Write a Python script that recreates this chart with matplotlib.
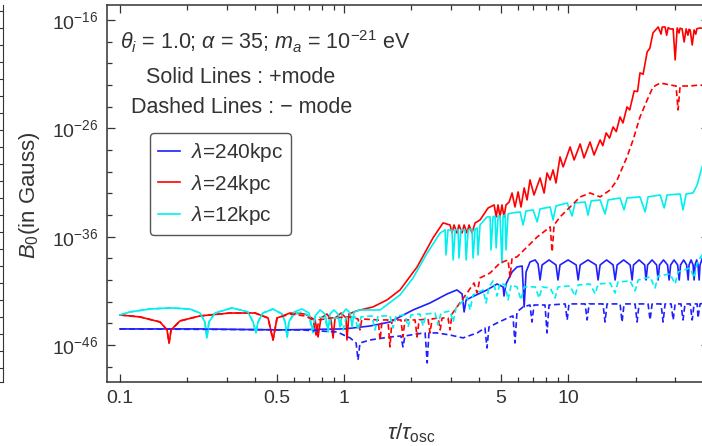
import numpy as np
import matplotlib.pyplot as plt
from matplotlib.ticker import FixedLocator, FixedFormatter, NullFormatter
from matplotlib.lines import Line2D

plt.rcParams['font.family'] = ['Liberation Sans', 'DejaVu Sans']
plt.rcParams['mathtext.fontset'] = 'custom'
plt.rcParams['mathtext.rm'] = 'Liberation Sans'
plt.rcParams['mathtext.it'] = 'Liberation Sans:italic'
plt.rcParams['mathtext.bf'] = 'Liberation Sans:bold'

# points as (log10 tau/tau_osc, log10 B0)
blue_plus = [
    (-1.0, -44.52), (-0.643, -44.52), (-0.286, -44.61), (0.0, -44.52), (0.116, -44.25),
    (0.205, -43.88), (0.308, -42.77), (0.384, -42.12), (0.460, -41.29), (0.504, -40.92),
    (0.527, -41.29), (0.536, -42.95), (0.545, -41.84), (0.571, -41.57), (0.638, -40.92),
    (0.683, -40.37), (0.710, -40.64), (0.714, -41.48), (0.723, -40.37), (0.75, -39.26),
    (0.772, -38.80), (0.795, -38.71), (0.804, -42.49), (0.8125, -39.26), (0.830, -38.34),
    (0.853, -38.15), (0.866, -38.52), (0.875, -40.0),
    (0.884, -38.61), (0.915, -38.15), (0.946, -38.61), (0.955, -40.0),
    (0.964, -38.61), (1.0, -38.15), (1.036, -38.61), (1.045, -40.0),
    (1.054, -38.61), (1.089, -38.15), (1.125, -38.61), (1.134, -40.0),
    (1.143, -38.61), (1.172, -38.15), (1.201, -38.61), (1.210, -40.0),
    (1.219, -38.61), (1.248, -38.15), (1.277, -38.61), (1.286, -40.0),
    (1.292, -38.61), (1.317, -38.15), (1.342, -38.61), (1.348, -40.0),
    (1.355, -38.61), (1.375, -38.15), (1.395, -38.61), (1.402, -40.0),
    (1.408, -38.61), (1.426, -38.15), (1.444, -38.61), (1.451, -40.0),
    (1.458, -38.61), (1.473, -38.15), (1.489, -38.61), (1.496, -40.0),
    (1.502, -38.61), (1.516, -38.15), (1.529, -38.61), (1.536, -40.0),
    (1.540, -38.61), (1.549, -38.15), (1.558, -38.61), (1.5625, -40.0),
    (1.567, -38.61), (1.574, -38.15), (1.580, -38.61), (1.585, -40.0),
    (1.589, -38.61), (1.612, -37.23),
]

blue_minus = [
    (-1.0, -44.52), (-0.196, -44.61), (-0.031, -44.80), (0.027, -45.35), (0.054, -45.82),
    (0.0625, -47.39), (0.071, -45.82), (0.116, -45.54), (0.205, -45.26), (0.254, -45.17),
    (0.263, -46.18), (0.272, -45.17), (0.326, -44.98), (0.362, -44.89), (0.371, -47.66),
    (0.379, -44.89), (0.415, -44.89), (0.473, -45.08), (0.531, -45.35), (0.594, -44.89),
    (0.629, -44.43), (0.638, -46.28), (0.647, -44.34), (0.683, -43.97), (0.741, -43.41),
    (0.754, -43.32), (0.763, -45.82), (0.772, -42.95), (0.799, -42.49), (0.830, -42.31),
    (0.839, -43.88), (0.848, -42.31), (0.897, -42.31), (0.906, -44.89), (0.915, -42.31),
    (0.987, -42.21), (0.996, -43.69), (1.004, -42.21), (1.076, -42.21), (1.085, -43.69),
    (1.094, -42.21), (1.156, -42.21), (1.165, -43.88), (1.174, -42.21), (1.232, -42.21),
    (1.241, -43.88), (1.25, -42.21), (1.299, -42.21), (1.308, -43.88), (1.317, -42.21),
    (1.357, -42.21), (1.366, -43.69), (1.375, -42.21), (1.415, -42.21), (1.424, -43.88),
    (1.433, -42.21), (1.460, -42.21), (1.469, -43.69), (1.478, -42.21), (1.504, -42.21),
    (1.513, -43.69), (1.522, -42.21), (1.545, -42.21), (1.554, -43.69), (1.5625, -42.21),
    (1.576, -42.21), (1.580, -43.51), (1.589, -42.21), (1.612, -42.12),
]

red_plus = [
    (-1.0, -43.23), (-0.911, -43.41), (-0.821, -43.88), (-0.790, -44.61), (-0.781, -45.82),
    (-0.772, -44.61), (-0.732, -43.78), (-0.643, -43.32), (-0.509, -43.05), (-0.397, -43.05),
    (-0.339, -43.51), (-0.317, -45.54), (-0.299, -43.51), (-0.241, -43.05), (-0.174, -43.14),
    (-0.129, -43.69), (-0.116, -45.26), (-0.103, -43.51), (-0.076, -43.14), (-0.058, -43.69),
    (-0.049, -45.35), (-0.040, -43.51), (-0.013, -43.05), (0.009, -43.51), (0.013, -45.54),
    (0.022, -43.14), (0.054, -42.86), (0.129, -42.49), (0.192, -41.84), (0.25, -40.92),
    (0.326, -38.80), (0.397, -36.12), (0.442, -34.73), (0.473, -34.92), (0.482, -35.66),
    (0.491, -34.92), (0.504, -35.66), (0.513, -34.92), (0.527, -35.66), (0.536, -34.92),
    (0.549, -35.66), (0.558, -34.92), (0.571, -35.66), (0.585, -34.73), (0.607, -34.46),
    (0.643, -33.35), (0.670, -33.07), (0.679, -34.18), (0.6875, -33.07), (0.696, -34.18),
    (0.705, -33.07), (0.714, -34.18), (0.723, -33.07), (0.737, -32.80), (0.75, -31.97),
    (0.763, -33.26), (0.777, -31.87), (0.790, -33.26), (0.804, -31.50), (0.817, -32.61),
    (0.830, -30.76), (0.848, -32.15), (0.875, -30.58), (0.893, -31.97), (0.906, -30.12),
    (0.920, -30.76), (0.933, -29.84), (0.946, -31.04), (0.964, -28.64), (0.978, -29.56),
    (1.009, -27.72), (1.027, -28.92), (1.054, -27.44), (1.071, -28.73), (1.098, -27.26),
    (1.116, -28.46), (1.143, -27.07), (1.155, -27.60), (1.170, -26.42), (1.185, -26.90),
    (1.201, -25.87), (1.215, -26.30), (1.232, -24.95), (1.245, -25.50), (1.263, -24.02),
    (1.275, -24.30), (1.295, -22.55), (1.310, -22.60), (1.321, -20.88), (1.335, -21.00),
    (1.353, -18.94), (1.365, -18.60), (1.379, -17.19), (1.402, -16.64), (1.415, -17.30),
    (1.420, -16.65), (1.433, -16.64), (1.440, -17.40), (1.447, -16.70), (1.455, -16.82),
    (1.469, -16.82), (1.478, -19.68), (1.487, -16.73), (1.495, -17.20), (1.500, -16.75),
    (1.509, -16.82), (1.518, -18.02), (1.527, -16.82), (1.535, -17.40), (1.540, -16.85),
    (1.545, -16.91), (1.554, -18.30), (1.5625, -16.91), (1.570, -17.30), (1.575, -16.80),
    (1.589, -16.73), (1.612, -16.82),
]

red_minus = [
    (-1.0, -43.23), (-0.911, -43.41), (-0.821, -43.88), (-0.790, -44.61), (-0.781, -45.82),
    (-0.772, -44.61), (-0.732, -43.78), (-0.643, -43.32), (-0.509, -43.05), (-0.397, -43.05),
    (-0.339, -43.51), (-0.317, -45.54), (-0.299, -43.51), (-0.241, -43.14), (-0.174, -43.32),
    (-0.138, -43.69), (-0.125, -45.08), (-0.112, -43.69), (-0.0625, -43.51), (0.027, -43.41),
    (0.0625, -43.60), (0.071, -44.61), (0.080, -43.60), (0.152, -43.69), (0.161, -45.54),
    (0.170, -43.69), (0.196, -43.69), (0.205, -46.18), (0.214, -43.69), (0.254, -43.69),
    (0.263, -45.26), (0.272, -43.69), (0.317, -43.69), (0.326, -45.26), (0.335, -43.69),
    (0.375, -43.60), (0.384, -44.89), (0.393, -43.60), (0.420, -43.51), (0.429, -44.61),
    (0.438, -43.51), (0.464, -43.51), (0.473, -44.61), (0.482, -43.14), (0.504, -42.49),
    (0.549, -41.20), (0.580, -40.28), (0.594, -41.20), (0.607, -39.81), (0.652, -39.35),
    (0.696, -38.43), (0.732, -38.15), (0.741, -39.72), (0.75, -37.97), (0.772, -37.87),
    (0.817, -36.95), (0.862, -36.03), (0.920, -35.10), (0.929, -37.41), (0.9375, -34.92),
    (0.964, -34.18), (1.009, -33.26), (1.054, -32.33), (1.098, -31.97), (1.143, -32.33),
    (1.1875, -31.69), (1.219, -30.76), (1.263, -28.64), (1.290, -27.07), (1.321, -24.95),
    (1.353, -23.38), (1.379, -22.18), (1.411, -21.81), (1.455, -21.99), (1.482, -22.09),
    (1.491, -24.30), (1.5, -22.09), (1.545, -22.09), (1.589, -21.99), (1.612, -22.09),
]

cyan_plus = [
    (-1.0, -43.23), (-0.955, -42.95), (-0.866, -42.68), (-0.777, -42.58), (-0.688, -42.68),
    (-0.643, -43.05), (-0.621, -43.88), (-0.612, -45.35), (-0.603, -43.88), (-0.576, -43.05),
    (-0.5, -42.58), (-0.429, -42.95), (-0.406, -43.88), (-0.393, -44.89), (-0.384, -43.88),
    (-0.362, -43.05), (-0.317, -42.68), (-0.277, -43.14), (-0.263, -43.88), (-0.254, -45.26),
    (-0.246, -43.88), (-0.223, -42.95), (-0.1875, -42.68), (-0.156, -43.05), (-0.138, -44.89),
    (-0.129, -43.32), (-0.107, -42.77), (-0.085, -43.14), (-0.071, -44.61), (-0.0625, -43.14),
    (-0.045, -42.77), (-0.027, -43.14), (-0.018, -44.34), (-0.009, -43.14), (0.009, -42.68),
    (0.027, -43.05), (0.036, -44.34), (0.045, -42.95), (0.071, -42.77), (0.161, -42.77),
    (0.25, -41.38), (0.308, -39.81), (0.371, -37.51), (0.429, -35.66), (0.451, -35.38),
    (0.455, -37.69), (0.464, -35.38), (0.482, -35.38), (0.487, -38.15), (0.496, -35.38),
    (0.509, -35.38), (0.513, -37.97), (0.522, -35.38), (0.540, -35.38), (0.545, -38.15),
    (0.554, -35.38), (0.571, -35.29), (0.576, -37.97), (0.585, -35.29), (0.594, -35.20),
    (0.598, -37.69), (0.607, -34.92), (0.638, -34.18), (0.652, -34.18), (0.656, -37.23),
    (0.665, -34.18), (0.674, -34.09), (0.679, -37.04), (0.6875, -34.09), (0.696, -34.09),
    (0.705, -38.43), (0.710, -34.09), (0.719, -34.00), (0.723, -37.23), (0.732, -33.90),
    (0.75, -33.81), (0.786, -33.72), (0.799, -34.92), (0.8125, -33.63), (0.844, -33.53),
    (0.862, -34.64), (0.875, -33.44), (0.920, -33.26), (0.933, -34.46), (0.946, -33.17),
    (0.996, -32.89), (1.018, -34.09), (1.031, -32.89), (1.076, -32.80), (1.089, -34.00),
    (1.103, -32.70), (1.143, -32.61), (1.165, -33.90), (1.179, -32.61), (1.232, -32.43),
    (1.25, -33.53), (1.263, -32.43), (1.321, -32.33), (1.344, -33.72), (1.357, -32.33),
    (1.411, -32.15), (1.429, -33.35), (1.442, -32.15), (1.5, -32.06), (1.513, -33.53),
    (1.527, -32.06), (1.558, -31.96), (1.576, -31.23), (1.598, -29.56), (1.612, -28.92),
]

cyan_minus = [
    (-1.0, -43.23), (-0.955, -42.95), (-0.866, -42.68), (-0.777, -42.58), (-0.688, -42.68),
    (-0.643, -43.05), (-0.621, -43.88), (-0.612, -45.35), (-0.603, -43.88), (-0.576, -43.05),
    (-0.5, -42.58), (-0.429, -42.95), (-0.406, -43.88), (-0.393, -44.89), (-0.384, -43.88),
    (-0.362, -43.05), (-0.317, -42.68), (-0.277, -43.14), (-0.263, -43.88), (-0.254, -45.26),
    (-0.246, -43.88), (-0.223, -43.14), (-0.1875, -42.95), (-0.156, -43.32), (-0.143, -44.61),
    (-0.129, -43.41), (-0.085, -43.51), (-0.071, -44.80), (-0.058, -43.51), (-0.018, -43.51),
    (-0.004, -44.61), (0.009, -43.51), (0.049, -43.41), (0.0625, -44.61), (0.076, -43.41),
    (0.125, -43.32), (0.138, -44.61), (0.152, -43.32), (0.205, -43.32), (0.219, -44.43),
    (0.232, -43.32), (0.272, -43.23), (0.286, -44.34), (0.299, -43.23), (0.339, -43.14),
    (0.353, -44.25), (0.366, -43.14), (0.406, -43.05), (0.420, -44.15), (0.433, -43.05),
    (0.473, -42.86), (0.487, -43.88), (0.5, -42.58), (0.549, -41.57), (0.5625, -42.77),
    (0.576, -41.38), (0.621, -40.92), (0.634, -42.12), (0.647, -40.64), (0.665, -40.09),
    (0.683, -41.48), (0.696, -40.28), (0.719, -40.46), (0.732, -41.84), (0.746, -40.46),
    (0.772, -40.64), (0.790, -41.84), (0.804, -40.64), (0.853, -40.64), (0.871, -41.66),
    (0.884, -40.64), (0.920, -40.74), (0.942, -41.66), (0.955, -40.64), (1.009, -40.55),
    (1.031, -41.48), (1.045, -40.46), (1.098, -40.37), (1.121, -41.29), (1.134, -40.37),
    (1.1875, -40.28), (1.210, -41.20), (1.223, -40.18), (1.277, -40.09), (1.299, -41.01),
    (1.313, -40.00), (1.366, -39.72), (1.388, -40.74), (1.402, -39.63), (1.455, -39.44),
    (1.478, -40.37), (1.491, -39.26), (1.545, -38.89), (1.5625, -39.81), (1.576, -38.43),
    (1.598, -37.69), (1.612, -37.23),
]

legend_labels = [r'$\lambda$=240kpc', r'$\lambda$=24kpc', r'$\lambda$=12kpc']
colors = ['#1f1fff', '#ff0000', '#00f0f0']

x_major = [0.1, 0.5, 1, 5, 10]
x_major_labels = ['0.1', '0.5', '1', '5', '10']
x_minor = [0.2, 0.3, 0.4, 0.6, 0.7, 0.8, 0.9, 2, 3, 4, 6, 7, 8, 9, 20, 30, 40]
y_major_exp = [-46, -36, -26, -16]
y_minor_exp = [-48, -44, -42, -40, -38, -34, -32, -30, -28, -24, -22, -20, -18]

text_col = '#333333'


def unpack(pts):
    lt, lb = np.array(pts).T
    return 10.0 ** lt, 10.0 ** lb


fig = plt.figure(figsize=(7.02, 4.46), dpi=100)

# sliver of the neighbouring panel at the left edge
frag = fig.add_axes([-0.1, 64 / 446, 0.1039, 377 / 446])
frag.set_xlim(0, 1)
frag.set_ylim(0, 377)
frag.spines['left'].set_visible(False)
frag.spines['top'].set_visible(False)
frag.spines['right'].set_color(text_col)
frag.spines['bottom'].set_color(text_col)
frag.set_xticks([])
frag.yaxis.tick_right()
frag.set_yticks(np.arange(14, 377, 17))
frag.tick_params(axis='y', direction='in', length=3, labelright=False, color=text_col)

ax = fig.add_axes([107 / 702, 64 / 446, 602 / 702, 377 / 446])
ax.set_xscale('log')
ax.set_yscale('log')

series = [(blue_plus, blue_minus), (red_plus, red_minus), (cyan_plus, cyan_minus)]
for (plus, minus), c in zip(series, colors):
    x, y = unpack(plus)
    ax.plot(x, y, color=c, lw=1.2)
for (plus, minus), c in zip(series, colors):
    x, y = unpack(minus)
    ax.plot(x, y, color=c, lw=1.2, dashes=(3.5, 2))

ax.set_xlim(10 ** -1.058, 10 ** 1.629)
ax.set_ylim(10 ** -49.42, 10 ** -14.61)

ax.xaxis.set_major_locator(FixedLocator(x_major))
ax.xaxis.set_major_formatter(FixedFormatter(x_major_labels))
ax.xaxis.set_minor_locator(FixedLocator(x_minor))
ax.xaxis.set_minor_formatter(NullFormatter())
ax.yaxis.set_major_locator(FixedLocator([10.0 ** e for e in y_major_exp]))
ax.yaxis.set_major_formatter(FixedFormatter([r'$10^{%d}$' % e for e in y_major_exp]))
ax.yaxis.set_minor_locator(FixedLocator([10.0 ** e for e in y_minor_exp]))
ax.yaxis.set_minor_formatter(NullFormatter())

ax.tick_params(which='both', direction='in', top=True, right=True,
               color=text_col, labelcolor=text_col, labelsize=14, width=0.9)
ax.tick_params(which='major', length=6, pad=6)
ax.tick_params(which='minor', length=3.5)
for s in ax.spines.values():
    s.set_color(text_col)
    s.set_linewidth(1.1)

ax.text(0.0216, 0.902, r'$\theta_i$ = 1.0; $\alpha$ = 35; $m_a$ = 10$^{-21}$ eV',
        transform=ax.transAxes, ha='left', va='center', fontsize=15.5, color=text_col)
ax.text(0.2226, 0.809, 'Solid Lines : +mode', transform=ax.transAxes,
        ha='center', va='center', fontsize=15.5, color=text_col)
ax.text(0.224, 0.727, 'Dashed Lines : \u2212 mode', transform=ax.transAxes,
        ha='center', va='center', fontsize=15.5, color=text_col)

handles = [Line2D([], [], color=c, lw=1.2) for c in colors]
leg = ax.legend(handles, legend_labels, loc='upper left', bbox_to_anchor=(0.0714, 0.6605),
                borderaxespad=0, fontsize=15, handlelength=1.05, handletextpad=0.5,
                labelspacing=0.4, borderpad=0.4, fancybox=True, framealpha=1)
leg.get_frame().set_edgecolor('#555555')
leg.get_frame().set_linewidth(1.0)
for t in leg.get_texts():
    t.set_color(text_col)

fig.text(30 / 702, 1 - 195 / 446, r'$B_0$(in Gauss)', rotation=90,
         ha='center', va='center', fontsize=16, color=text_col)
fig.text(411 / 702, 1 - 433 / 446, r'$\tau/\tau_{\rm osc}$',
         ha='center', va='center', fontsize=16, color=text_col)

fig.savefig('out.png', dpi=100, facecolor='white')
